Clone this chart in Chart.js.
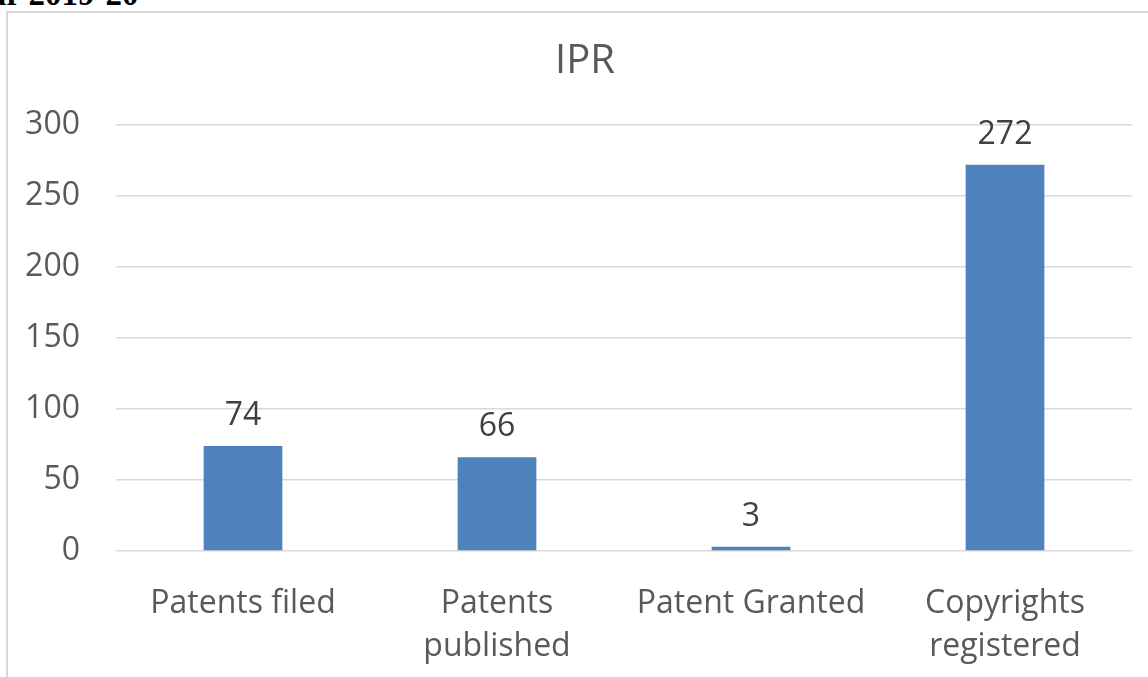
<!DOCTYPE html>
<html>
<head>
<meta charset="utf-8">
<script src="https://cdn.jsdelivr.net/npm/chart.js@4/dist/chart.umd.min.js"></script>
<style>
  html, body { margin: 0; padding: 0; background: #fff; overflow: hidden; width: 1148px; height: 677px; }
  #heading {
    position: absolute; left: -45px; top: -22px;
    font: bold 33px "Liberation Serif", "Times New Roman", serif;
    line-height: 1; color: #000; white-space: nowrap;
  }
  #frame {
    position: absolute; left: 6px; top: 11px;
    width: 1200px; height: 720px;
    border-left: 2px solid #d9d9d9; border-top: 2px solid #d9d9d9;
  }
  #chart { position: absolute; left: 0; top: 0; }
</style>
</head>
<body>
<div id="heading">Year 2019-20</div>
<div id="frame">
  <canvas id="chart" width="1154" height="700"></canvas>
</div>
<script>
// Chart data
const categories = [['Patents filed'], ['Patents', 'published'], ['Patent Granted'], ['Copyrights', 'registered']];
const counts = [74, 66, 3, 272];
const yTicks = [0, 50, 100, 150, 200, 250, 300];
const chartTitle = 'IPR';

const font = '"Open Sans", "Liberation Sans", sans-serif';

// Title centred on the whole chart frame (not the plot area)
const frameTitle = {
  id: 'frameTitle',
  afterDraw(chart) {
    const ctx = chart.ctx;
    ctx.save();
    ctx.font = '40px ' + font;
    ctx.fillStyle = '#595959';
    ctx.textAlign = 'center';
    ctx.textBaseline = 'middle';
    ctx.fillText(chartTitle, chart.width / 2, 49);
    ctx.restore();
  }
};

// Value labels above the bars
const barValues = {
  id: 'barValues',
  afterDatasetsDraw(chart) {
    const ctx = chart.ctx;
    const meta = chart.getDatasetMeta(0);
    ctx.save();
    ctx.font = '32px ' + font;
    ctx.fillStyle = '#404040';
    ctx.textAlign = 'center';
    ctx.textBaseline = 'middle';
    meta.data.forEach((bar, i) => {
      ctx.fillText(String(counts[i]), bar.x, bar.y - 30);
    });
    ctx.restore();
  }
};

const ctx = document.getElementById('chart').getContext('2d');
new Chart(ctx, {
  type: 'bar',
  data: {
    labels: categories,
    datasets: [{
      label: chartTitle,
      data: counts,
      backgroundColor: '#4f81bd',
      categoryPercentage: 1,
      barPercentage: 0.31
    }]
  },
  options: {
    responsive: false,
    animation: false,
    devicePixelRatio: 1,
    layout: { padding: { left: 0, right: 30, top: 112, bottom: 0 } },
    plugins: {
      legend: { display: false },
      tooltip: { enabled: false },
      title: { display: false }
    },
    scales: {
      x: {
        grid: { display: false },
        border: { display: false },
        ticks: {
          color: '#595959',
          font: { family: font, size: 32, lineHeight: 1.35 },
          padding: 23,
          maxRotation: 0,
          autoSkip: false
        },
        afterFit(scale) { scale.height = 162; }
      },
      y: {
        min: 0,
        max: 300,
        afterBuildTicks(scale) { scale.ticks = yTicks.map(v => ({ value: v })); },
        grid: { color: '#d9d9d9', lineWidth: 1.5, drawTicks: false },
        border: { display: false },
        ticks: {
          color: '#595959',
          font: { family: font, size: 32 },
          padding: 36
        },
        afterFit(scale) { scale.width = 108; }
      }
    }
  },
  plugins: [barValues, frameTitle]
});
</script>
</body>
</html>
